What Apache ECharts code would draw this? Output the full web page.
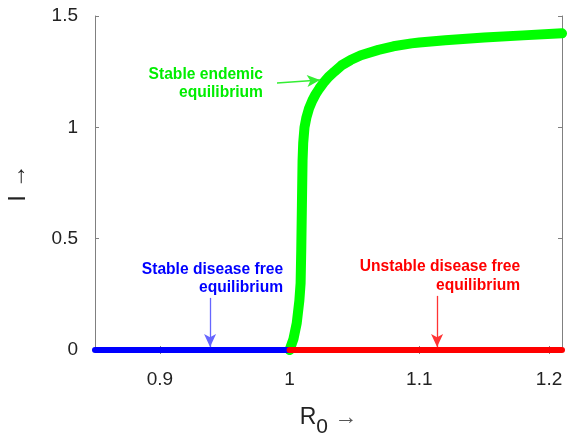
<!DOCTYPE html>
<html>
<head>
<meta charset="utf-8">
<script src="https://cdn.jsdelivr.net/npm/echarts@6/dist/echarts.min.js"></script>
<style>html,body{margin:0;padding:0;background:#fff}#c{width:578px;height:437px}</style>
</head>
<body>
<div id="c"></div>
<script>
// ---- data ----
var xTicks = [0.9, 1, 1.1, 1.2];
var yTicks = [0, 0.5, 1, 1.5];
var stableDFE = [[0.85, 0], [1.0, 0]];
var unstableDFE = [[1.0, 0], [1.21, 0]];
var endemicR0 = [1.000, 1.003, 1.0055, 1.0075, 1.0085, 1.009, 1.0095, 1.0100, 1.0105, 1.0115, 1.0130, 1.0150, 1.0175, 1.0200, 1.0230, 1.0265, 1.030, 1.0345, 1.040, 1.047, 1.055, 1.0685, 1.080, 1.094, 1.10, 1.12, 1.15, 1.18, 1.21];
var endemicI  = [0.0,   0.05,  0.12,   0.22,   0.30,   0.45,  0.65,   0.85,   0.93,   1.00,   1.045,  1.085,  1.12,   1.148,  1.175,  1.202,  1.226, 1.250,  1.278, 1.302, 1.324, 1.348,  1.364, 1.377, 1.381, 1.391, 1.403, 1.413, 1.422];
var labels = [
  {text: 'Stable endemic\nequilibrium', at: [0.9795, 1.195], color: '#00ee00'},
  {text: 'Stable disease free\nequilibrium', at: [0.995, 0.321], color: '#0000ff'},
  {text: 'Unstable disease free\nequilibrium', at: [1.1777, 0.332], color: '#ff0000'}
];
var arrows = [
  {from: [0.9903, 1.199], to: [1.0235, 1.2126], color: '#33ee33'},
  {from: [0.9387, 0.234], to: [0.9387, 0.013], color: '#6666ff'},
  {from: [1.1137, 0.243], to: [1.1137, 0.013], color: '#ff3333'}
];

var endemic = endemicR0.map(function (r, i) { return [r, endemicI[i]]; });
var FONT = '"Liberation Sans", Arial, sans-serif';
var gray = '#808080';

var chart = echarts.init(document.getElementById('c'));

function arrowLine(a) {
  return {
    silent: true,
    symbol: ['none', 'arrow'],
    symbolSize: [9, 13],
    lineStyle: {color: a.color, width: 1.3, type: 'solid'},
    label: {show: false},
    data: [[{coord: a.from}, {coord: a.to}]]
  };
}

var option = {
  animation: false,
  grid: {left: 95, right: 16, top: 16, bottom: 87, containLabel: false, outerBoundsMode: 'none'},
  xAxis: [{
    type: 'value', min: 0.85, max: 1.21, position: 'bottom',
    splitLine: {show: false},
    axisLine: {show: true, lineStyle: {color: gray, width: 1}},
    axisTick: {show: true, inside: true, length: 4, customValues: xTicks, lineStyle: {color: gray}},
    axisLabel: {customValues: xTicks, color: '#222', fontSize: 19, fontFamily: FONT, margin: 20,
      formatter: function (v) { return String(+v.toFixed(2)); }},
    name: '{r|R}{s|0}{a| →}',
    nameLocation: 'middle', nameGap: 55,
    nameTextStyle: {rich: {
      r: {fontSize: 23, fontFamily: FONT, color: '#222', lineHeight: 26},
      s: {fontSize: 21, fontFamily: FONT, color: '#222', padding: [18, 0, 0, 0], lineHeight: 26},
      a: {fontSize: 23, fontFamily: FONT, color: '#555', lineHeight: 26}
    }}
  }, {
    type: 'value', min: 0.85, max: 1.21, position: 'top',
    splitLine: {show: false},
    axisLine: {show: true, lineStyle: {color: gray, width: 1}},
    axisTick: {show: true, inside: true, length: 4, customValues: xTicks, lineStyle: {color: gray}},
    axisLabel: {show: false}
  }],
  yAxis: [{
    type: 'value', min: 0, max: 1.5, interval: 0.5, position: 'left',
    splitLine: {show: false},
    axisLine: {show: true, lineStyle: {color: gray, width: 1}},
    axisTick: {show: true, inside: true, length: 4, lineStyle: {color: gray}},
    axisLabel: {color: '#222', fontSize: 19, fontFamily: FONT, margin: 17},
    name: 'I →', nameLocation: 'middle', nameGap: 65,
    nameTextStyle: {fontSize: 24, fontFamily: FONT, color: '#222'}
  }, {
    type: 'value', min: 0, max: 1.5, interval: 0.5, position: 'right',
    splitLine: {show: false},
    axisLine: {show: true, lineStyle: {color: gray, width: 1}},
    axisTick: {show: true, inside: true, length: 4, lineStyle: {color: gray}},
    axisLabel: {show: false}
  }],
  series: [{
    type: 'line', data: endemic, showSymbol: false, clip: false,
    lineStyle: {color: '#00ff00', width: 10, cap: 'round', join: 'round'},
    markLine: arrowLine(arrows[0]), z: 2
  }, {
    type: 'line', data: stableDFE, showSymbol: false, clip: false,
    lineStyle: {color: '#0000ff', width: 6, cap: 'round'},
    markLine: arrowLine(arrows[1]), z: 3
  }, {
    type: 'line', data: unstableDFE, showSymbol: false, clip: false,
    lineStyle: {color: '#ff0000', width: 6, cap: 'round'},
    markLine: arrowLine(arrows[2]), z: 4
  }]
};
chart.setOption(option);

var g = labels.map(function (l) {
  var p = chart.convertToPixel({xAxisIndex: 0, yAxisIndex: 0}, l.at);
  return {
    type: 'text', x: p[0], y: p[1], z: 10,
    style: {text: l.text, fill: l.color, font: 'bold 15.6px ' + FONT,
      textAlign: 'right', textVerticalAlign: 'middle', lineHeight: 18.5}
  };
});
chart.setOption({graphic: g});
</script>
</body>
</html>
